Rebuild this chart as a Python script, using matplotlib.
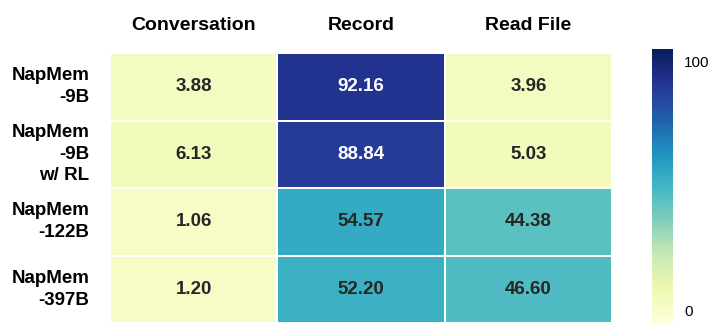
import numpy as np
import matplotlib
matplotlib.use("Agg")
import matplotlib.pyplot as plt
import seaborn as sns

rows = ["NapMem\n-9B", "NapMem\n-9B\nw/ RL", "NapMem\n-122B", "NapMem\n-397B"]
cols = ["Conversation", "Record", "Read File"]
conversation = [3.88, 6.13, 1.06, 1.20]
record = [92.16, 88.84, 54.57, 52.20]
read_file = [3.96, 5.03, 44.38, 46.60]

data = np.array([conversation, record, read_file]).T

plt.rcParams['font.family'] = ['Liberation Sans', 'DejaVu Sans']

fig = plt.figure(figsize=(7.12, 3.23), dpi=100)
ax = fig.add_axes([110 / 712, 0.0, 502 / 712, 1 - 53 / 323])
cax = fig.add_axes([652 / 712, 0.0, 21 / 712, 1 - 49 / 323])

sns.heatmap(data, ax=ax, cbar_ax=cax, cmap="YlGnBu", vmin=-5, vmax=105,
            annot=False, linewidths=1.2, linecolor="white",
            xticklabels=cols, yticklabels=rows)

# annotations: white on the dark cells, dark elsewhere
for i in range(data.shape[0]):
    for j in range(data.shape[1]):
        v = data[i, j]
        ax.text(j + 0.5, i + 0.5, f"{v:.2f}", ha="center", va="center",
                fontsize=13.5, fontweight="bold",
                color="white" if v > 70 else "#262626")

ax.xaxis.tick_top()
ax.tick_params(axis="x", length=0, pad=14, labelsize=14)
ax.tick_params(axis="y", length=0, pad=15, labelsize=13.5)
for t in ax.get_xticklabels():
    t.set_fontweight("bold")
for t in ax.get_yticklabels():
    t.set_fontweight("bold")
    t.set_rotation(0)
    t.set_ha("right")
    t.set_va("center")
    t.set_linespacing(1.35)

cax.set_yticks([0, 100])
cax.tick_params(length=0, labelsize=11, pad=8)

fig.savefig("out.png", dpi=100)
